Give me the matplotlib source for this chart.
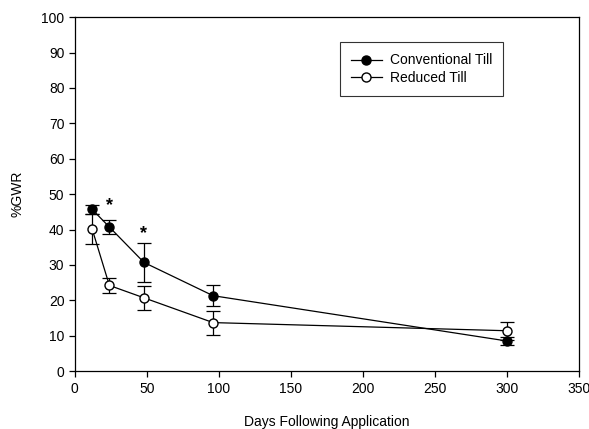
import matplotlib.pyplot as plt
from matplotlib.lines import Line2D

plt.rcParams['font.family'] = ['Liberation Sans', 'DejaVu Sans']

days = [12, 24, 48, 96, 300]
# Conventional Till
ct_mean = [45.7, 40.7, 30.7, 21.3, 8.5]
ct_err = [1.3, 1.9, 5.5, 3.0, 1.0]
# Reduced Till
rt_mean = [40.2, 24.2, 20.7, 13.7, 11.4]
rt_err = [4.3, 2.1, 3.4, 3.4, 2.5]

star_x = [24, 48]
star_y = [46.8, 38.8]

fig = plt.figure(figsize=(5.89, 4.29), dpi=100)
ax = fig.add_axes([0.127, 0.135, 0.856, 0.825])

ax.errorbar(days, ct_mean, yerr=ct_err, fmt='-o', color='black', mfc='black',
            mec='black', ms=6.5, lw=0.9, elinewidth=0.9, capsize=5, capthick=0.9,
            zorder=3)
ax.errorbar(days, rt_mean, yerr=rt_err, fmt='-o', color='black', mfc='white',
            mec='black', ms=6.5, lw=0.9, elinewidth=0.9, capsize=5, capthick=0.9,
            zorder=2)

for x, y in zip(star_x, star_y):
    ax.text(x, y, '*', ha='center', va='center', fontsize=13, fontweight='bold')

ax.set_xlim(0, 350)
ax.set_ylim(0, 100)
ax.set_xticks(range(0, 351, 50))
ax.set_yticks(range(0, 101, 10))
ax.tick_params(direction='out', length=4, width=0.9, labelsize=10)
ax.tick_params(top=False, right=False)
for s in ax.spines.values():
    s.set_linewidth(0.9)

ax.set_xlabel('Days Following Application', fontsize=10, labelpad=14)
ax.set_ylabel('%GWR', fontsize=10, labelpad=12)

handles = [
    Line2D([], [], color='black', lw=0.9, marker='o', ms=6.5, mfc='black', mec='black'),
    Line2D([], [], color='black', lw=0.9, marker='o', ms=6.5, mfc='white', mec='black'),
]
leg = ax.legend(handles, ['Conventional Till', 'Reduced Till'],
                loc='upper left', bbox_to_anchor=(0.526, 0.929), fontsize=10,
                frameon=True, fancybox=False, edgecolor='black',
                handlelength=2.2, borderpad=0.8, labelspacing=0.25,
                handletextpad=0.6, borderaxespad=0)
leg.get_frame().set_linewidth(0.8)

fig.savefig('out.png', dpi=100)
